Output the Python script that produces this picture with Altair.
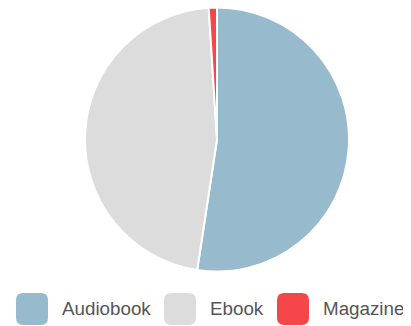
import altair as alt
import pandas as pd

categories = ["Audiobook", "Ebook", "Magazine"]
values = [52.4, 46.6, 1.0]
colors = ["#97BBCD", "#DCDCDC", "#F7464A"]

df = pd.DataFrame({"category": categories, "value": values, "order": [0, 1, 2]})

rounded = "M-1,-0.55 Q-1,-1 -0.55,-1 L0.55,-1 Q1,-1 1,-0.55 L1,0.55 Q1,1 0.55,1 L-0.55,1 Q-1,1 -1,0.55 Z"

chart = alt.Chart(df).mark_arc(stroke="white", strokeWidth=2, radius=132).encode(
    theta=alt.Theta("value:Q", stack=True),
    order=alt.Order("order:Q"),
    x=alt.value(209),
    y=alt.value(131.5),
    color=alt.Color(
        "category:N",
        scale=alt.Scale(domain=categories, range=colors),
        legend=alt.Legend(
            title=None,
            orient="none",
            legendX=8,
            legendY=285,
            direction="horizontal",
            columns=3,
            symbolType=rounded,
            symbolSize=1024,
            symbolStrokeWidth=0,
            symbolOpacity=1,
            labelFontSize=18.8,
            labelFont="Liberation Sans",
            labelColor="#555555",
            labelOffset=14,
            columnPadding=13,
            padding=0,
        ),
    ),
).properties(
    width=395, height=317, padding=0,
    autosize=alt.AutoSizeParams(type="none"),
).configure_view(stroke=None)

chart.save("out.html", embed_options={"renderer": "svg", "actions": False})
